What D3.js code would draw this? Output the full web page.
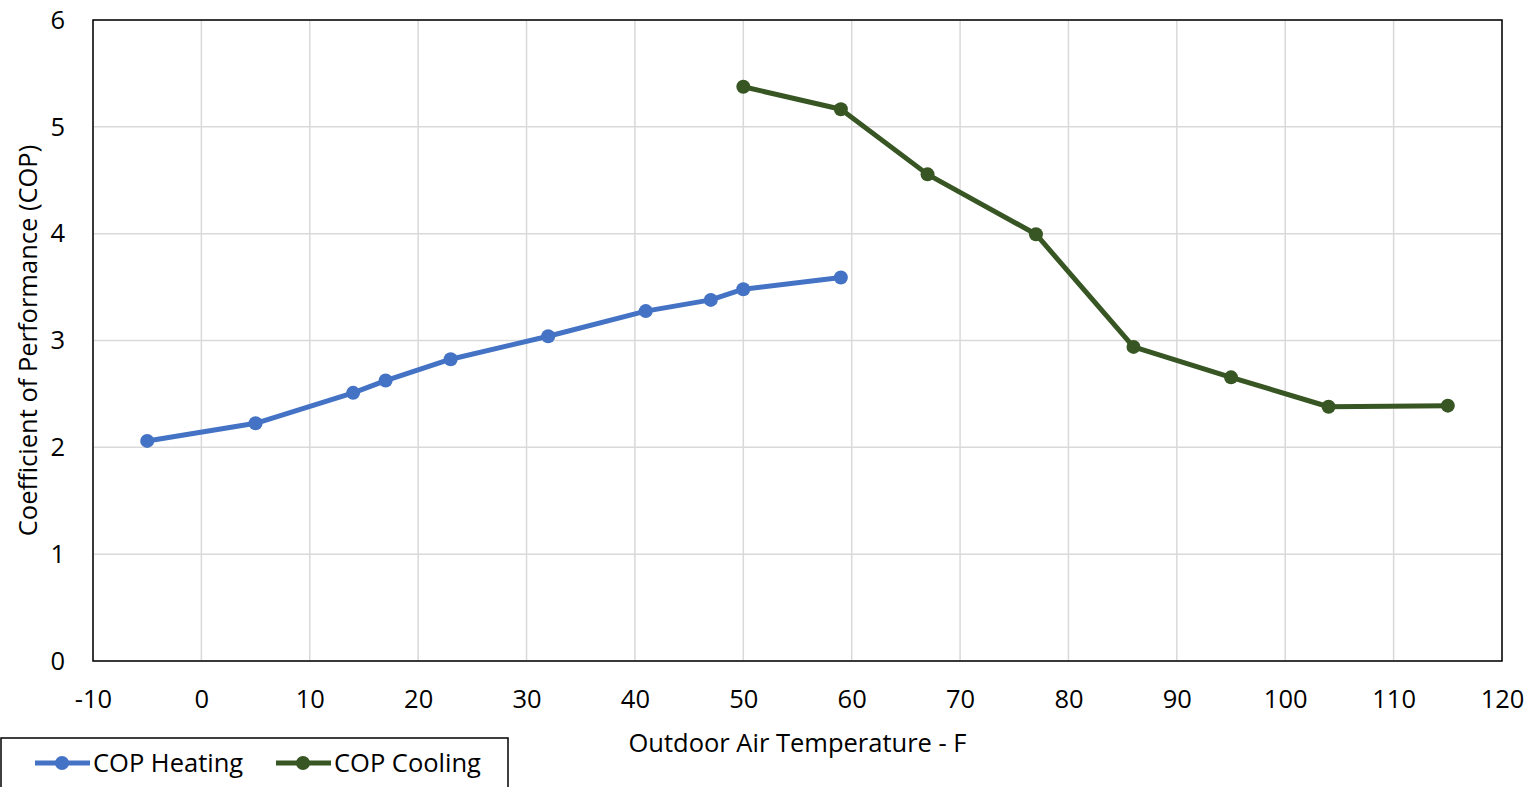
<!DOCTYPE html>
<html><head><meta charset="utf-8">
<script src="https://cdn.jsdelivr.net/npm/d3@7"></script>
<style>html,body{margin:0;padding:0;background:#fff;}svg{display:block;}</style>
</head><body>
<svg id="c" width="1530" height="787"></svg>
<script>
const heatTemp = [-5, 5, 14, 17, 23, 32, 41, 47, 50, 59];
const heatCOP  = [2.06, 2.225, 2.51, 2.625, 2.825, 3.04, 3.275, 3.38, 3.48, 3.59];
const coolTemp = [50, 59, 67, 77, 86, 95, 104, 115];
const coolCOP  = [5.375, 5.165, 4.555, 3.995, 2.94, 2.655, 2.38, 2.39];
const xTicks = [-10, 0, 10, 20, 30, 40, 50, 60, 70, 80, 90, 100, 110, 120];
const yTicks = [0, 1, 2, 3, 4, 5, 6];
const seriesNames = ["COP Heating", "COP Cooling"];
const seriesColors = ["#4472c4", "#375623"];

const font = "'Open Sans', 'Liberation Sans', sans-serif";
const fs = 25.5;
const svg = d3.select("#c");
const L = 93, R = 1502, T = 20, B = 661;
const x = d3.scaleLinear().domain([-10, 120]).range([L, R]);
const y = d3.scaleLinear().domain([0, 6]).range([B, T]);

// gridlines
svg.append("g").selectAll("line").data(xTicks).join("line")
  .attr("x1", d => x(d)).attr("x2", d => x(d)).attr("y1", T).attr("y2", B)
  .attr("stroke", "#d9d9d9").attr("stroke-width", 1.5);
svg.append("g").selectAll("line").data(yTicks).join("line")
  .attr("x1", L).attr("x2", R).attr("y1", d => y(d)).attr("y2", d => y(d))
  .attr("stroke", "#d9d9d9").attr("stroke-width", 1.5);

// frame
svg.append("rect").attr("x", L).attr("y", T).attr("width", R - L).attr("height", B - T)
  .attr("fill", "none").attr("stroke", "#000").attr("stroke-width", 1.5);

// axes labels
const xAxis = d3.axisBottom(x).tickValues(xTicks).tickSize(0).tickFormat(d => String(d));
const gx = svg.append("g").attr("transform", `translate(0,${B})`).call(xAxis);
gx.select(".domain").remove();
gx.selectAll("text").attr("y", 47).attr("dy", null)
  .attr("font-family", font).attr("font-size", fs).attr("fill", "#000");

const yAxis = d3.axisLeft(y).tickValues(yTicks).tickSize(0).tickPadding(28).tickFormat(d => String(d));
const gy = svg.append("g").attr("transform", `translate(${L},0)`).call(yAxis);
gy.select(".domain").remove();
gy.selectAll("text").attr("font-family", font).attr("font-size", fs).attr("fill", "#000");

svg.append("text").attr("x", (L + R) / 2).attr("y", 752).attr("text-anchor", "middle")
  .attr("font-family", font).attr("font-size", fs).attr("fill", "#000")
  .text("Outdoor Air Temperature - F");
svg.append("text").attr("transform", `translate(37,${(T + B) / 2}) rotate(-90)`).attr("text-anchor", "middle")
  .attr("font-family", font).attr("font-size", fs).attr("fill", "#000")
  .text("Coefficient of Performance (COP)");

// series
const series = [
  heatTemp.map((t, i) => [t, heatCOP[i]]),
  coolTemp.map((t, i) => [t, coolCOP[i]])
];
const line = d3.line().x(d => x(d[0])).y(d => y(d[1]));
series.forEach((s, k) => {
  svg.append("path").datum(s).attr("d", line).attr("fill", "none")
    .attr("stroke", seriesColors[k]).attr("stroke-width", 5).attr("stroke-linejoin", "round");
  svg.append("g").selectAll("circle").data(s).join("circle")
    .attr("cx", d => x(d[0])).attr("cy", d => y(d[1])).attr("r", 7)
    .attr("fill", seriesColors[k]);
});

// legend
svg.append("rect").attr("x", 1).attr("y", 738).attr("width", 507).attr("height", 60)
  .attr("fill", "#fff").attr("stroke", "#000").attr("stroke-width", 1.5);
const legX = [35, 276];
seriesNames.forEach((n, k) => {
  const lx = legX[k];
  svg.append("line").attr("x1", lx).attr("x2", lx + 55).attr("y1", 763).attr("y2", 763)
    .attr("stroke", seriesColors[k]).attr("stroke-width", 5);
  svg.append("circle").attr("cx", lx + 27).attr("cy", 763).attr("r", 7).attr("fill", seriesColors[k]);
  svg.append("text").attr("x", lx + 58).attr("y", 772).attr("font-family", font)
    .attr("font-size", fs).attr("fill", "#000").text(n);
});
</script>
</body></html>
